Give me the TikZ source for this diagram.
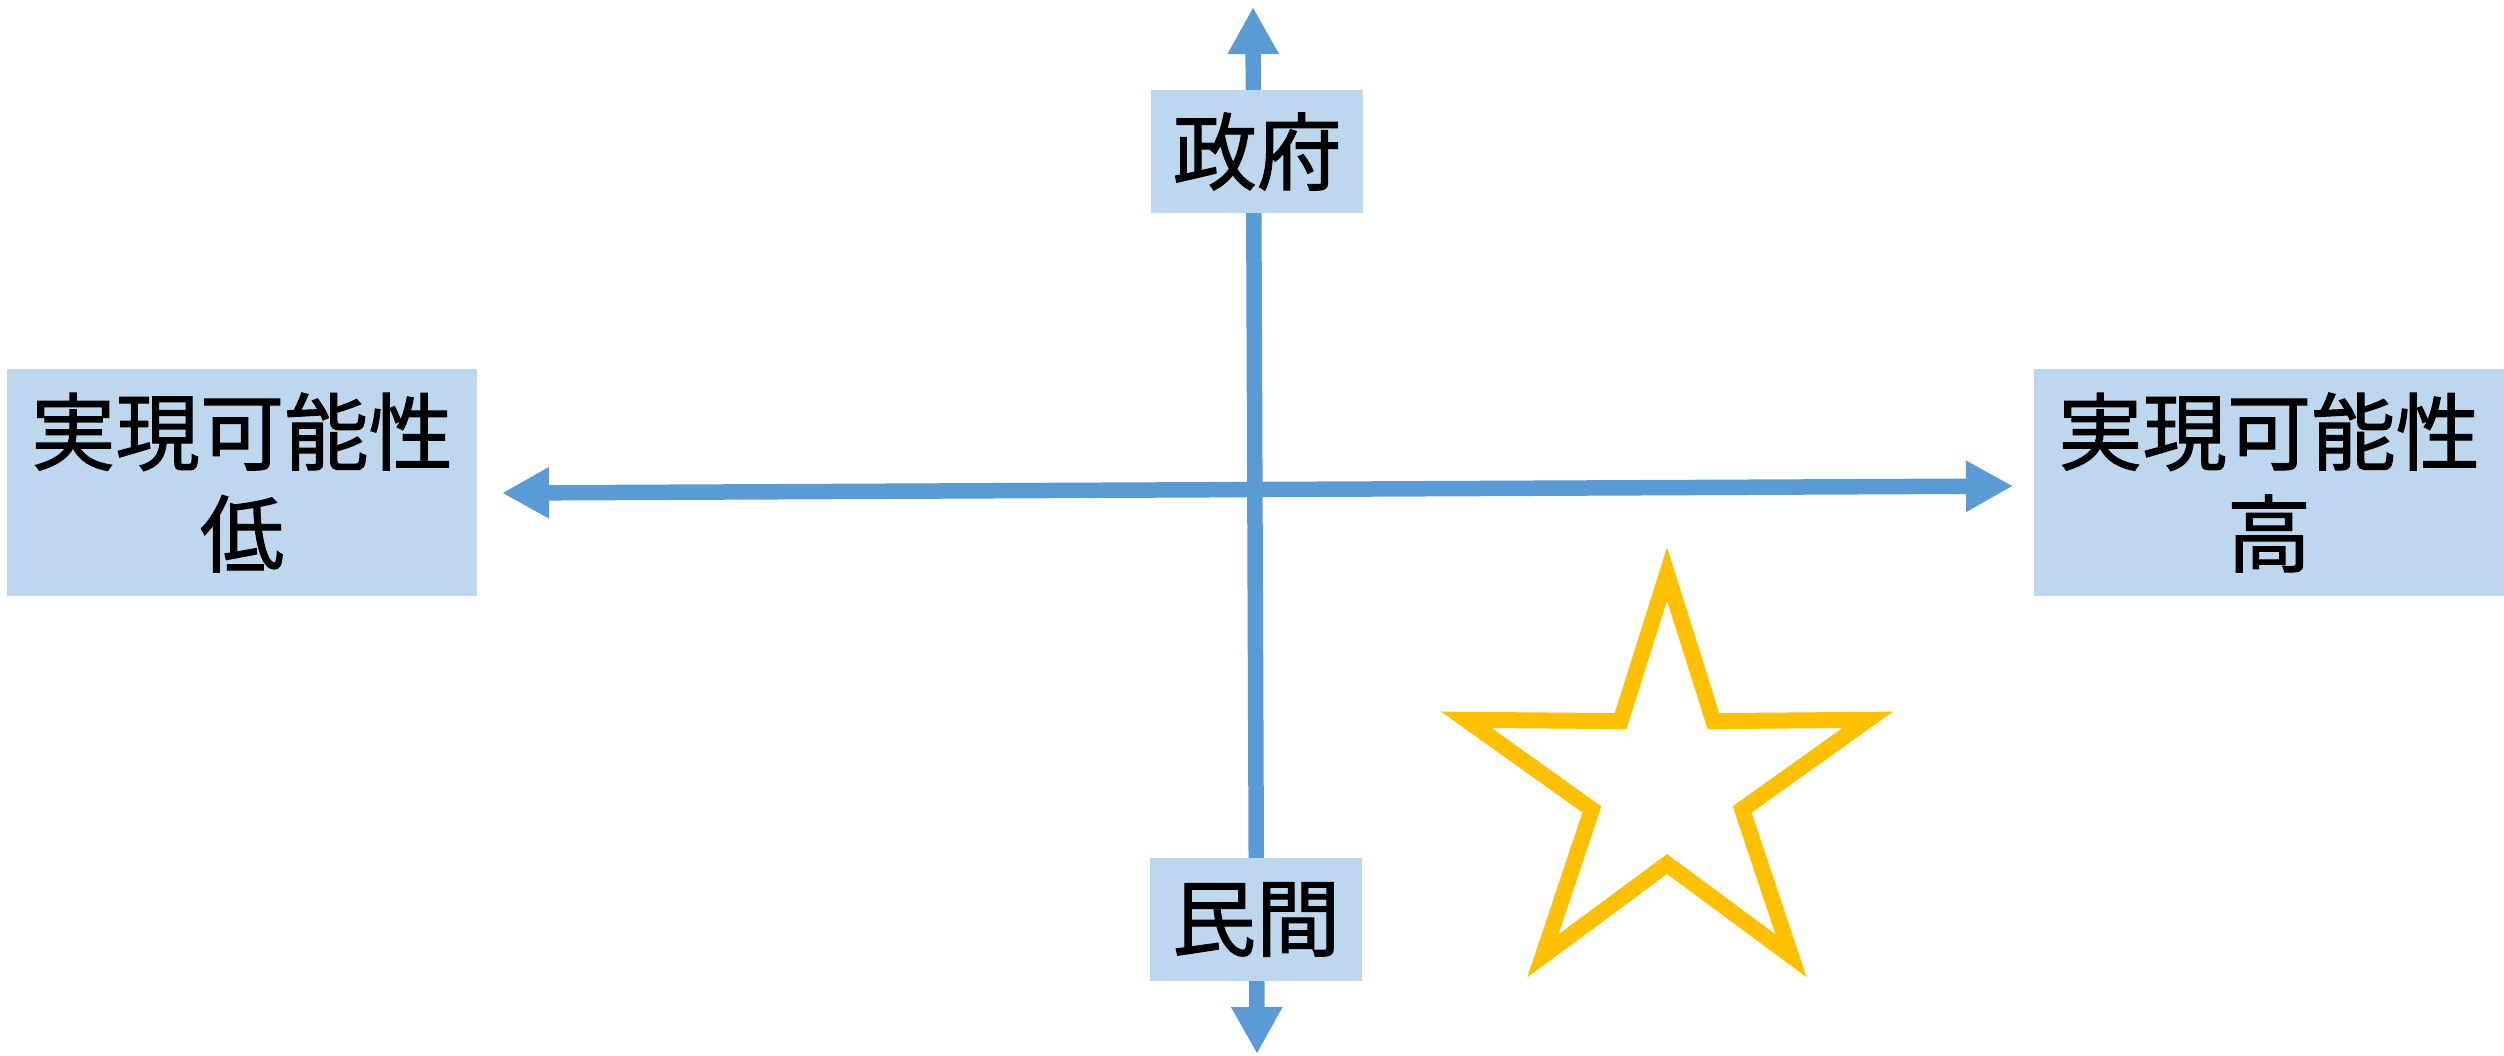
\documentclass[tikz,border=0pt]{standalone}
\usepackage{fontspec}
\newfontfamily\jpfont[FakeBold=1.2]{Noto Sans CJK JP}
\usetikzlibrary{arrows.meta}
\definecolor{axisblue}{HTML}{5B9BD5}
\definecolor{boxblue}{HTML}{BDD7EE}
\definecolor{staryellow}{HTML}{FFC000}

\begin{document}
\begin{tikzpicture}[x=1cm, y=-1cm, arrow/.style={{Triangle[width=0.48cm,length=0.47cm]}-{Triangle[width=0.48cm,length=0.47cm]}, line width=0.155cm, draw=axisblue}, box/.style={fill=boxblue, inner sep=0pt, align=center, font=\jpfont\fontsize{24}{29}\selectfont}, smallbox/.style={box, minimum width=2.12cm, minimum height=1.23cm}, widebox/.style={box, minimum width=4.70cm, minimum height=2.27cm}, starline/.style={draw=staryellow, fill=white, line width=0.16cm}]

        \useasboundingbox (0,0) rectangle (25.04,10.55);

        \coordinate (govtip) at (12.53,0.07);
        \coordinate (privtip) at (12.57,10.54);
        \coordinate (lowtip) at (5.02,4.93);
        \coordinate (hightip) at (20.13,4.86);
        \coordinate (starc) at (16.67,7.85);

        \draw[arrow] (privtip) -- (govtip);
        \draw[arrow] (lowtip) -- (hightip);

        \node [smallbox] (gov) at (12.57,1.515) {政府};
        \node [smallbox] (priv) at (12.56,9.195) {民間};
        \node [widebox] (low) at (2.42,4.825) {実現可能性\\低};
        \node [widebox] (high) at (22.69,4.825) {実現可能性\\高};

        \draw[starline, shift={(starc)}] (-90:2.11) -- (-54:0.79) -- (-18:2.11) -- (18:0.79) -- (54:2.11) -- (90:0.79) -- (126:2.11) -- (162:0.79) -- (198:2.11) -- (234:0.79) -- cycle;

    \end{tikzpicture}
\end{document}
